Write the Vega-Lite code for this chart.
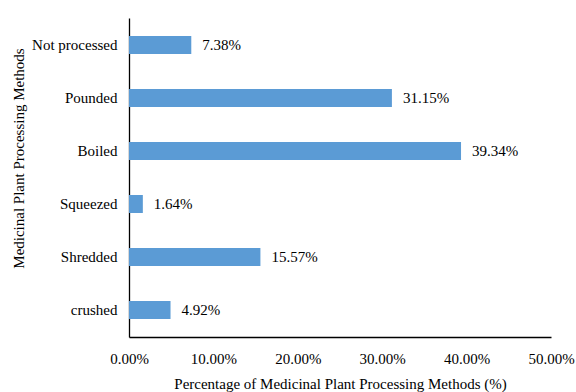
{
  "$schema": "https://vega.github.io/schema/vega-lite/v6.json",
  "width": 422,
  "height": 319,
  "autosize": {"type": "none"},
  "padding": {"left": 129, "top": 18, "right": 25, "bottom": 55},
  "background": "white",
  "config": {
    "view": {"stroke": null},
    "font": "Liberation Serif",
    "axis": {"labelFont": "Liberation Serif", "titleFont": "Liberation Serif", "labelColor": "#000", "titleColor": "#000", "titleFontWeight": "normal"}
  },
  "data": {
    "values": [
      {"method": "Not processed", "pct": 7.38},
      {"method": "Pounded", "pct": 31.15},
      {"method": "Boiled", "pct": 39.34},
      {"method": "Squeezed", "pct": 1.64},
      {"method": "Shredded", "pct": 15.57},
      {"method": "crushed", "pct": 4.92}
    ]
  },
  "transform": [{"calculate": "format(datum.pct, '.2f') + '%'", "as": "label"}],
  "encoding": {
    "y": {
      "field": "method",
      "type": "nominal",
      "sort": null,
      "scale": {"paddingInner": 0.66, "paddingOuter": 0.34},
      "axis": {
        "title": "Medicinal  Plant Processing Methods",
        "titleFontSize": 15,
        "titleX": -111,
        "titleY": 140,
        "titleBaseline": "middle",
        "labelFontSize": 15,
        "labelPadding": 12,
        "ticks": false,
        "domainColor": "#000",
        "domainWidth": 1.3
      }
    },
    "x": {
      "field": "pct",
      "type": "quantitative",
      "scale": {"domain": [0, 50], "nice": false},
      "axis": {
        "title": "Percentage of Medicinal  Plant Processing Methods (%)",
        "titleFontSize": 15,
        "titleY": 46,
        "titleBaseline": "middle",
        "values": [0, 10, 20, 30, 40, 50],
        "labelExpr": "format(datum.value, '.2f') + '%'",
        "labelFontSize": 15,
        "labelPadding": 21,
        "labelBaseline": "middle",
        "labelFlush": false,
        "ticks": false,
        "grid": false,
        "domainColor": "#000",
        "domainWidth": 1.3
      }
    }
  },
  "layer": [
    {"mark": {"type": "bar", "color": "#5B9BD5"}},
    {
      "mark": {"type": "text", "align": "left", "dx": 11, "fontSize": 15, "color": "#000", "font": "Liberation Serif"},
      "encoding": {"text": {"field": "label", "type": "nominal"}}
    }
  ]
}
